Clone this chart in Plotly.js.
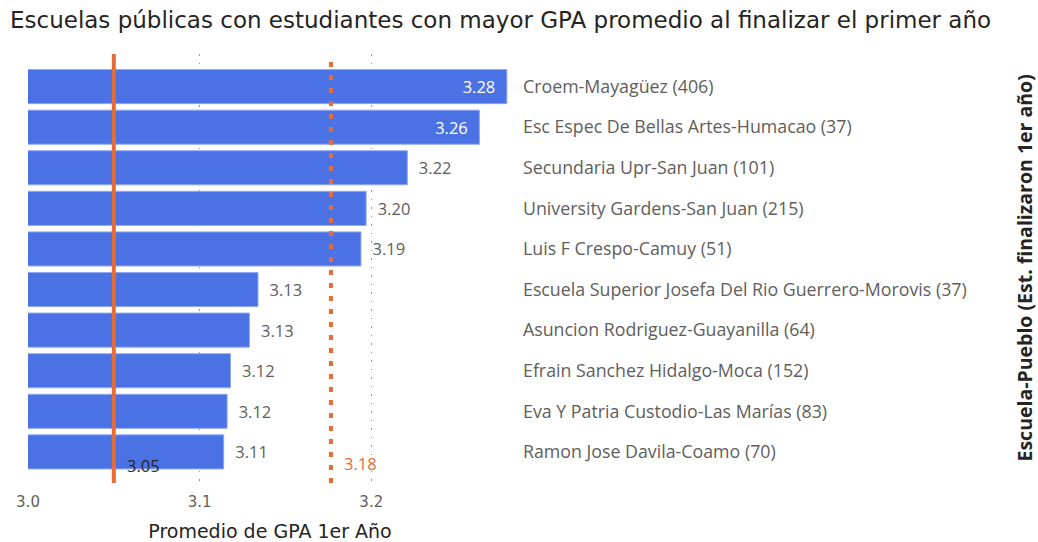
<!DOCTYPE html>
<html>
<head>
<meta charset="utf-8">
<script src="https://cdn.plot.ly/plotly-3.0.1.min.js"></script>
<style>
html,body{margin:0;padding:0;background:#fff;}
#chart{width:1038px;height:542px;}
</style>
</head>
<body>
<div id="chart"></div>
<script>
const schools = [
  "Croem-Mayagüez (406)",
  "Esc Espec De Bellas Artes-Humacao (37)",
  "Secundaria Upr-San Juan (101)",
  "University Gardens-San Juan (215)",
  "Luis F Crespo-Camuy (51)",
  "Escuela Superior Josefa Del Rio Guerrero-Morovis (37)",
  "Asuncion Rodriguez-Guayanilla (64)",
  "Efrain Sanchez Hidalgo-Moca (152)",
  "Eva Y Patria Custodio-Las Marías (83)",
  "Ramon Jose Davila-Coamo (70)"
];
const gpa = [3.279, 3.263, 3.221, 3.197, 3.194, 3.134, 3.129, 3.118, 3.116, 3.114];
const labelInside = [true, true, false, false, false, false, false, false, false, false];
const avgAll = 3.05;
const avgTop = 3.1765;
const xTicks = [3.0, 3.1, 3.2];
const xTickText = ["3.0", "3.1", "3.2"];

const titleFont = "'DejaVu Sans', sans-serif";
const bodyFont = "'Open Sans', 'Noto Sans', sans-serif";
const orange = "#E66C37";
const blue = "#4A72E5";
const gray = "#605E5C";
const dark = "#252423";
const nb = "\u00a0\u00a0";

const trace = {
  type: "bar",
  orientation: "h",
  y: schools,
  x: gpa,
  marker: {color: blue, line: {color: "#8FA8F0", width: 1}},
  textposition: labelInside.map(v => v ? "inside" : "outside"),
  texttemplate: labelInside.map(v => v ? "%{x:.2f}" + nb : nb + "%{x:.2f}"),
  insidetextanchor: "end",
  insidetextfont: {color: "#FFFFFF", family: bodyFont, size: 16.5},
  outsidetextfont: {color: gray, family: bodyFont, size: 16.5},
  constraintext: "none",
  cliponaxis: false,
  hoverinfo: "x+y"
};

const layout = {
  width: 1038,
  height: 542,
  margin: {l: 28, r: 526, t: 54, b: 59},
  paper_bgcolor: "#FFFFFF",
  plot_bgcolor: "#FFFFFF",
  showlegend: false,
  bargap: 0.16,
  title: {
    text: "Escuelas públicas con estudiantes con mayor GPA promedio al finalizar el primer año",
    font: {family: titleFont, size: 23, color: dark},
    x: 0, xref: "paper", xanchor: "left",
    y: 0.963, yref: "container", yanchor: "middle",
    pad: {l: -18}
  },
  xaxis: {
    range: [3.0, 3.282],
    tickvals: xTicks,
    ticktext: xTickText,
    showgrid: true,
    gridcolor: "#9A9896",
    griddash: "1.5px,7px",
    gridwidth: 1.5,
    zeroline: false,
    showline: false,
    ticks: "",
    ticklabelstandoff: 8,
    tickfont: {family: titleFont, size: 15, color: gray},
    title: {text: "Promedio de GPA 1er Año", font: {family: titleFont, size: 19, color: dark}, standoff: 14},
    fixedrange: true
  },
  yaxis: {
    type: "category",
    side: "right",
    range: [9.766, -0.803],
    showgrid: false,
    zeroline: false,
    showline: false,
    ticks: "",
    ticklabelstandoff: 10,
    tickfont: {family: bodyFont, size: 17.8, color: gray},
    fixedrange: true
  },
  shapes: [
    {type: "line", xref: "x", yref: "y domain", x0: avgAll, x1: avgAll, y0: 0, y1: 1, layer: "above",
     line: {color: orange, width: 4}},
    {type: "line", xref: "x", yref: "y domain", x0: avgTop, x1: avgTop, y0: 0, y1: 1, layer: "above",
     line: {color: orange, width: 4, dash: "5px,8px"}}
  ],
  annotations: [
    {x: avgAll, xref: "x", y: 0.04, yref: "y domain", text: avgAll.toFixed(2), showarrow: false,
     xanchor: "left", yanchor: "middle", xshift: 11, font: {family: bodyFont, size: 16.5, color: dark}},
    {x: avgTop, xref: "x", y: 0.045, yref: "y domain", text: avgTop.toFixed(2), showarrow: false,
     xanchor: "left", yanchor: "middle", xshift: 11, font: {family: bodyFont, size: 16.5, color: orange}},
    {x: 1024, xref: "paper", y: 0.5, yref: "paper", text: "<b>Escuela-Pueblo (Est. finalizaron 1er año)</b>",
     showarrow: false, textangle: -90, xanchor: "center", yanchor: "middle",
     font: {family: bodyFont, size: 19.5, color: dark}}
  ]
};
layout.annotations[2].x = (1024 - 28) / (1038 - 28 - 526);

Plotly.newPlot("chart", [trace], layout, {displayModeBar: false, staticPlot: true});
</script>
</body>
</html>
